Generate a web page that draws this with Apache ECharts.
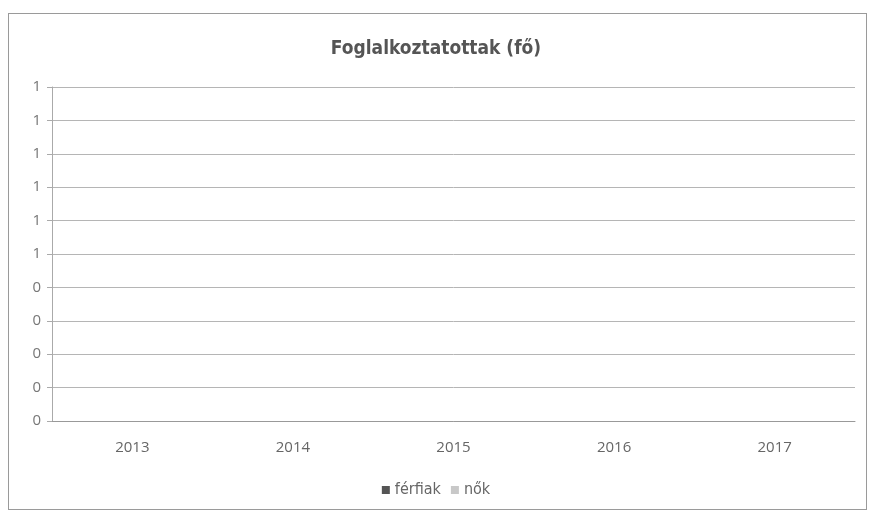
<!DOCTYPE html>
<html>
<head>
<meta charset="utf-8">
<script src="https://cdn.jsdelivr.net/npm/echarts@6/dist/echarts.min.js"></script>
<style>
  html, body { margin: 0; padding: 0; background: #fff; }
  #frame { position: absolute; left: 8px; top: 13px; width: 859px; height: 497px; border: 1px solid #9a9a9a; box-sizing: border-box; }
  #chart { position: absolute; left: 0; top: 0; width: 872px; height: 518px; }
</style>
</head>
<body>
<div id="frame"></div>
<div id="chart"></div>
<script>
// évek és sorozatok (üres diagram, minden érték 0)
const years = ['2013', '2014', '2015', '2016', '2017'];
const ferfiak = [0, 0, 0, 0, 0];
const nok = [0, 0, 0, 0, 0];
const seriesNames = ['férfiak', 'nők'];

const font = "'Liberation Sans Narrow', 'DejaVu Sans Condensed', 'Liberation Sans', sans-serif";

const chart = echarts.init(document.getElementById('chart'));

const option = {
  backgroundColor: 'transparent',
  animation: false,
  title: {
    text: 'Foglalkoztatottak (fő)',
    left: 'center',
    top: 35,
    textStyle: { fontFamily: font, fontSize: 19, fontWeight: 'bold', color: '#555' }
  },
  legend: {
    data: seriesNames,
    bottom: 15,
    left: 'center',
    icon: 'rect',
    itemWidth: 8,
    itemHeight: 8,
    itemGap: 10,
    textStyle: { fontFamily: font, fontSize: 16, color: '#666' }
  },
  grid: { left: 52, right: 17, top: 87, bottom: 97, containLabel: false },
  xAxis: {
    type: 'category',
    data: years,
    axisLine: { show: true, lineStyle: { color: '#999' } },
    axisTick: { show: false },
    axisLabel: { fontFamily: "'Open Sans', sans-serif", fontSize: 15, color: '#666', margin: 19 }
  },
  yAxis: {
    type: 'value',
    min: 0,
    max: 1,
    interval: 0.1,
    axisLine: { show: true, lineStyle: { color: '#aaa' } },
    axisTick: { show: true, inside: false, length: 5, lineStyle: { color: '#aaa' } },
    axisLabel: {
      fontFamily: "'Open Sans', sans-serif", fontSize: 15, color: '#777', margin: 11,
      formatter: function (v) { return String(Math.round(v + 1e-9)); }
    },
    splitLine: { show: true, lineStyle: { color: '#b5b5b5', width: 1 } }
  },
  series: [
    { name: seriesNames[0], type: 'bar', data: ferfiak, itemStyle: { color: '#555' } },
    { name: seriesNames[1], type: 'bar', data: nok, itemStyle: { color: '#c8c8c8' } }
  ]
};

chart.setOption(option);
</script>
</body>
</html>
